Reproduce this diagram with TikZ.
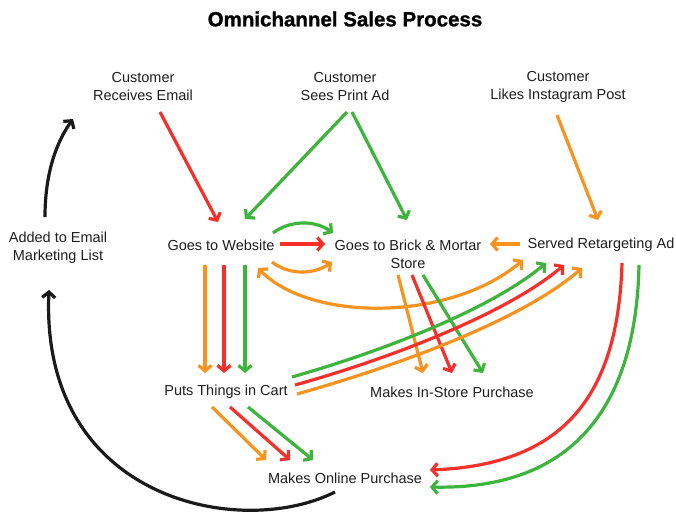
\documentclass[tikz,border=0pt]{standalone}
\usepackage{fontspec}
\setmainfont{Liberation Sans}
\newfontfamily\titlefont[FakeBold=1.2]{Liberation Sans Bold}
\usetikzlibrary{arrows.meta}
\definecolor{flowred}{HTML}{F5302A}
\definecolor{floworange}{HTML}{F7931E}
\definecolor{flowgreen}{HTML}{3DB43B}
\definecolor{flowblack}{HTML}{1A1A1A}
\definecolor{labelgray}{HTML}{1E1E1E}
\begin{document}
\begin{tikzpicture}[x=1pt,y=-1pt,
  lbl/.style={text=labelgray, font=\fontsize{14.5}{18}\selectfont, align=center, inner sep=0pt},
  barb/.tip={Straight Barb[length=5.5pt,width=13pt]},
  flow/.style={line width=3.2pt, -barb},
  flowboth/.style={line width=3.2pt, barb-barb},
  r/.style={flow, draw=flowred},
  o/.style={flow, draw=floworange},
  g/.style={flow, draw=flowgreen},
  k/.style={flow, draw=flowblack}]
\useasboundingbox (0,0) rectangle (676,512);

% title
\node[text=black, font=\titlefont\fontsize{20.5}{24}\selectfont, inner sep=0pt] (title) at (345,19) {Omnichannel Sales Process};

% stages
\node[lbl] (email)    at (143,87)  {Customer\\Receives Email};
\node[lbl] (print)    at (345,87)  {Customer\\Sees Print Ad};
\node[lbl] (insta)    at (558,87)  {Customer\\Likes Instagram Post};
\node[lbl] (added)    at (58,248)  {Added to Email\\Marketing List};
\node[lbl] (web)      at (221,245) {Goes to Website};
\node[lbl] (brick)    at (408,254) {Goes to Brick \& Mortar\\Store};
\node[lbl] (retarget) at (601,245) {Served Retargeting Ad};
\node[lbl] (cart)     at (226,392) {Puts Things in Cart};
\node[lbl] (instore)  at (452,392) {Makes In-Store Purchase};
\node[lbl] (online)   at (345,478) {Makes Online Purchase};

% entry points
\draw[r] ([shift={(17,25)}]email.center) -- ([shift={(-3,-23)}]web.center);
\draw[g] ([shift={(2,25)}]print.center) -- ([shift={(24,-26)}]web.center);
\draw[g] ([shift={(7,25)}]print.center) -- ([shift={(-1,-34)}]brick.center);
\draw[o] ([shift={(-1,28)}]insta.center) -- ([shift={(-3,-25)}]retarget.center);

% website <-> store
\draw[g] ([shift={(52,-12)}]web.center) .. controls (290,220) and (315,220) .. ([shift={(-75,-21)}]brick.center);
\draw[r] ([shift={(59,-1)}]web.center) -- ([shift={(-83,-10)}]brick.center);
\draw[o] ([shift={(51,17)}]web.center) .. controls (290,276) and (315,274) .. ([shift={(-76,8)}]brick.center);
\draw[o] ([shift={(-81,-1)}]retarget.center) -- ([shift={(82,-10)}]brick.center);
\draw[flowboth, draw=floworange] ([shift={(37,23)}]web.center) .. controls (310,322) and (450,322) .. ([shift={(-78,15)}]retarget.center);

% website -> cart
\draw[o] ([shift={(-16,20)}]web.center) -- ([shift={(-21,-19)}]cart.center);
\draw[r] ([shift={(3,20)}]web.center) -- ([shift={(-2,-19)}]cart.center);
\draw[g] ([shift={(24,20)}]web.center) -- ([shift={(19,-19)}]cart.center);

% store -> in-store purchase
\draw[o] ([shift={(-10,21)}]brick.center) -- ([shift={(-29,-19)}]instore.center);
\draw[r] ([shift={(4,21)}]brick.center) -- ([shift={(0,-19)}]instore.center);
\draw[g] ([shift={(15,21)}]brick.center) -- ([shift={(31,-19)}]instore.center);

% cart -> retargeting
\draw[g] ([shift={(66,-15)}]cart.center) .. controls (380,352) and (490,310) .. ([shift={(-55,18)}]retarget.center);
\draw[r] ([shift={(69,-7)}]cart.center) .. controls (385,360) and (505,315) .. ([shift={(-37,20)}]retarget.center);
\draw[o] ([shift={(71,2)}]cart.center) .. controls (390,368) and (520,322) .. ([shift={(-19,23)}]retarget.center);

% cart -> online purchase
\draw[o] ([shift={(-14,15)}]cart.center) -- ([shift={(-79,-18)}]online.center);
\draw[r] ([shift={(4,15)}]cart.center) -- ([shift={(-55,-18)}]online.center);
\draw[g] ([shift={(22,15)}]cart.center) -- ([shift={(-32,-18)}]online.center);

% retargeting -> online purchase
\draw[r] ([shift={(21,18)}]retarget.center) .. controls (618,400) and (560,465) .. ([shift={(85,-8)}]online.center);
\draw[g] ([shift={(38,20)}]retarget.center) .. controls (636,410) and (570,490) .. ([shift={(85,9)}]online.center);

% email loop
\draw[k] ([shift={(-10,14)}]online.center) .. controls (240,540) and (40,500) .. ([shift={(-9,42)}]added.center);
\draw[k] ([shift={(-13,-31)}]added.center) .. controls (45,170) and (58,140) .. ([shift={(-70,32)}]email.center);
\end{tikzpicture}
\end{document}
